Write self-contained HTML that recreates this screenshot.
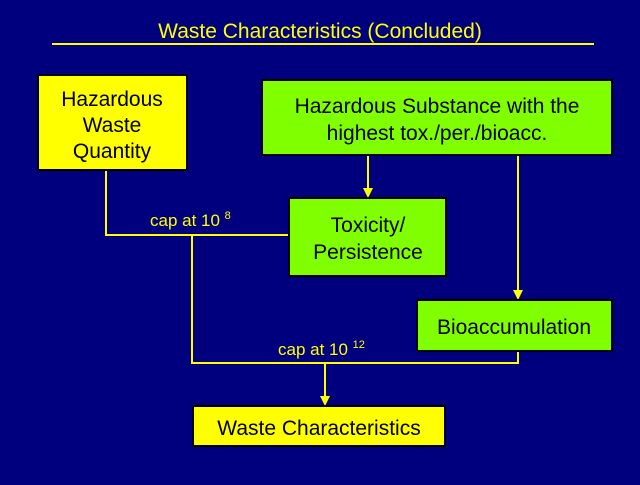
<!DOCTYPE html>
<html><head><style>
body{margin:0;width:640px;height:480px;background:#00007f;overflow:hidden;font-family:"Liberation Sans",sans-serif;}
</style></head><body>
<svg width="640" height="480" xmlns="http://www.w3.org/2000/svg" font-family="Liberation Sans, sans-serif">
<rect width="640" height="480" fill="#00007f"/>
<text x="320" y="38" fill="#ffff00" font-size="21" text-anchor="middle">Waste Characteristics (Concluded)</text>
<line x1="52" y1="44" x2="594" y2="44" stroke="#ffff00" stroke-width="2"/>
<g stroke="#ffff00" stroke-width="2" fill="none">
<polyline points="106,170 106,235 289,235"/>
<polyline points="192,235 192,363 518,363 518,351"/>
<line x1="325" y1="363" x2="325" y2="398"/>
<line x1="368" y1="155" x2="368" y2="190"/>
<line x1="518" y1="155" x2="518" y2="292"/>
</g>
<g fill="#ffff00">
<polygon points="320,396 330,396 325,406"/>
<polygon points="363,188 373,188 368,198"/>
<polygon points="513,290 523,290 518,300"/>
</g>
<g stroke="#000" stroke-width="2">
<rect x="38" y="75" width="149" height="95" fill="#ffff00"/>
<rect x="262" y="80" width="350" height="75" fill="#80ff00"/>
<rect x="289" y="198" width="157" height="78" fill="#80ff00"/>
<rect x="417" y="300" width="195" height="51" fill="#80ff00"/>
<rect x="193" y="406" width="252" height="40" fill="#ffff00"/>
</g>
<g fill="#000" font-size="21" text-anchor="middle">
<text x="112" y="106">Hazardous</text>
<text x="112" y="132">Waste</text>
<text x="112" y="158">Quantity</text>
<text x="437" y="113">Hazardous Substance with the</text>
<text x="437" y="140">highest tox./per./bioacc.</text>
<text x="368" y="232">Toxicity/</text>
<text x="368" y="259">Persistence</text>
<text x="514" y="334">Bioaccumulation</text>
<text x="319" y="435">Waste Characteristics</text>
</g>
<g fill="#ffff00" font-size="17">
<text x="150" y="226">cap at 10 <tspan font-size="11" dy="-7">8</tspan></text>
<text x="278" y="355">cap at 10 <tspan font-size="11" dy="-7">12</tspan></text>
</g>
</svg>
</body></html>
